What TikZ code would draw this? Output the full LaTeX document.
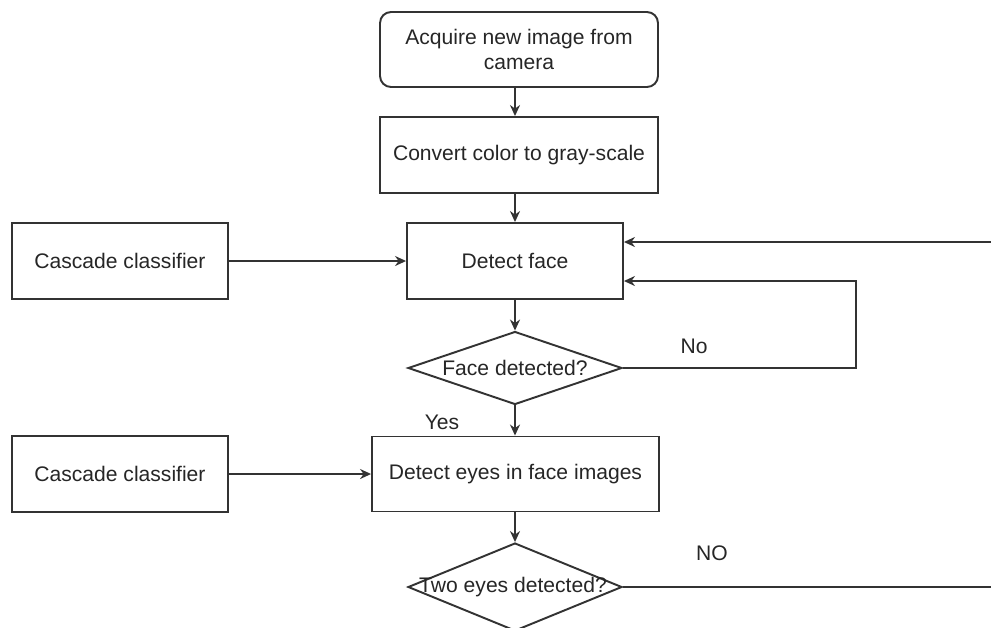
\documentclass[tikz,border=0pt]{standalone}
\usepackage{fontspec}
\setmainfont{Liberation Sans}
\usetikzlibrary{shapes.geometric,arrows.meta,calc}
\tikzset{
  box/.style={
    shape = rectangle,
    draw = black!80,
    line width = 1.1pt,
    minimum height = 1.52cm,
    inner sep = 0pt,
    align = center
  },
  decision/.style={
    shape = diamond,
    draw = black!80,
    line width = 1.1pt,
    inner sep = 0pt,
    minimum width = 4.28cm
  },
  arr/.style={
    draw = black!80,
    line width = 1.1pt,
    -{Stealth[length=2.2mm,width=2mm]}
  },
  every picture/.style = {
    font=\fontsize{12}{14.5}\selectfont
  },
}
\begin{document}
\begin{tikzpicture}[x=0.02cm,y=-0.02cm,text=black!85]
  \useasboundingbox (0,0) rectangle (991,627);
  % main column
  \node[box,rounded corners=0.22cm,minimum width=5.56cm,minimum height=1.5cm] (acq) at (519,49.5) {Acquire new image from\\camera};
  \node[box,minimum width=5.56cm] (conv) at (519,155) {Convert color to gray-scale};
  \node[box,minimum width=4.32cm] (face) at (515,261) {Detect face};
  \node[decision,minimum height=1.46cm] (fdet) at (515,368) {};
  \node (fdett) at (515,368) {Face detected?};
  \node[box,minimum width=5.74cm,minimum height=1.5cm] (eyes) at (515.5,474) {Detect eyes in face images};
  \node[decision,minimum height=1.76cm] (edet) at (515,587) {};
  \node (edett) at (513,587) {Two eyes detected?};
  % classifiers
  \node[box,minimum width=4.32cm] (casc1) at (120,261) {Cascade classifier};
  \node[box,minimum width=4.32cm] (casc2) at (120,474) {Cascade classifier};
  % free ends
  \coordinate (back) at (991,242);
  \coordinate (loop) at (856,281);
  \coordinate (out) at (991,587);
  \draw[arr] (acq.south -| face.north) -- (conv.north -| face.north);
  \draw[arr] (conv.south -| face.north) -- (face.north);
  \draw[arr] (face.south) -- (fdet.north);
  \draw[arr] (fdet.south) -- (eyes.north -| fdet.south);
  \draw[arr] (eyes.south -| edet.north) -- (edet.north);
  \draw[arr] (casc1.east) -- (casc1.east -| face.west);
  \draw[arr] (casc2.east) -- (casc2.east -| eyes.west);
  \draw[arr] (back) -- (back -| face.east);
  \draw[arr] (fdet.east) -| (loop) -- (loop -| face.east);
  \draw[draw=black!80,line width=1.1pt] (edet.east) -- (out);
  \node (no) at (694,346) {No};
  \node (yes) at (442,422) {Yes};
  \node (no2) at (712,553) {NO};
\end{tikzpicture}
\end{document}
